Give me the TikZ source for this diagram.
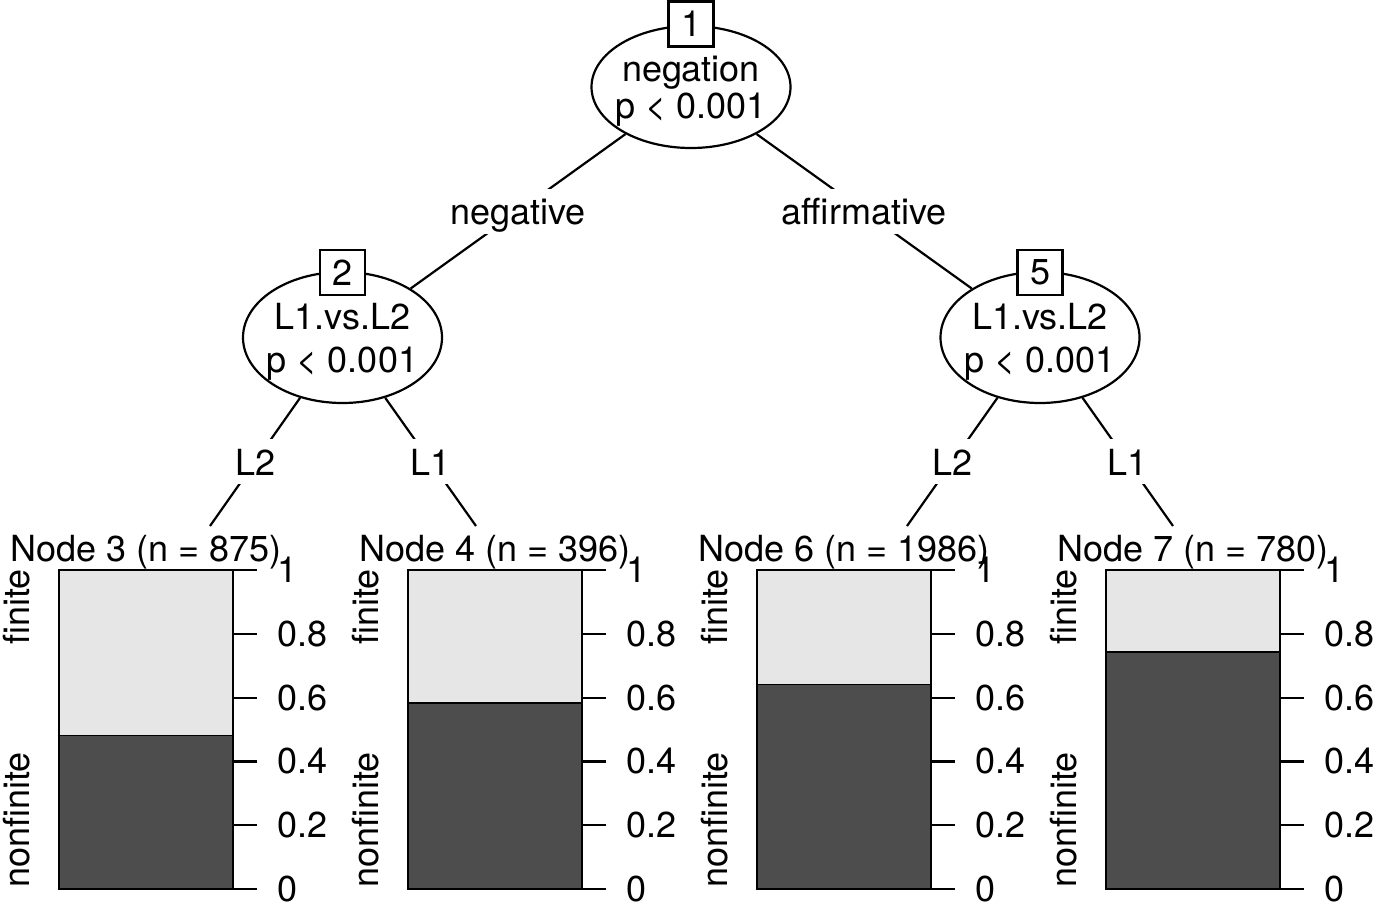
\documentclass[tikz,border=0pt]{standalone}
\usepackage{fontspec}
\setmainfont{TeX Gyre Heros}
\usetikzlibrary{shapes.geometric}
\usetikzlibrary{positioning}
\definecolor{lightbar}{HTML}{E6E6E6}
\definecolor{darkbar}{HTML}{4D4D4D}

\begin{document}
\begin{tikzpicture}[x=0.5pt, y=-0.5pt, line width=1.1pt,
    every node/.style={font=\fontsize{18}{21.5}\selectfont},
    split/.style={ellipse, draw, fill=white, align=center, inner ysep=0pt, inner xsep=-15pt,
      minimum width=99.5pt, minimum height=65.5pt, text depth=0pt},
    idbox/.style={draw, fill=white, minimum size=22.5pt, inner sep=0pt},
    edgelab/.style={fill=white, inner sep=0pt, minimum height=22.5pt,
      text height=15pt, text depth=1.8pt}]
  \useasboundingbox (0,0) rectangle (1375,906);

  \node[split, minimum height=61pt, font=\fontsize{18}{18.5}\selectfont] (n1) at (691,87) {negation\\p < 0.001};
  \node[split] (n2) at (342.5,337.5) {L1.vs.L2\\p < 0.001};
  \node[split] (n5) at (1040,337.5) {L1.vs.L2\\p < 0.001};
  \node[idbox] (b1) at (691,24) {1};
  \node[idbox] (b2) at (342.5,272.5) {2};
  \node[idbox] (b5) at (1040,272.5) {5};

  \coordinate (t3) at (210,526);
  \coordinate (t4) at (476,526);
  \coordinate (t6) at (907,526);
  \coordinate (t7) at (1173,526);

  \draw (n1) -- node[edgelab] (e2) {negative} (n2);
  \draw (n1) -- node[edgelab] (e5) {affirmative} (n5);
  \draw (n2) -- node[edgelab] (e3) {L2} (t3);
  \draw (n2) -- node[edgelab] (e4) {L1} (t4);
  \draw (n5) -- node[edgelab] (e6) {L2} (t6);
  \draw (n5) -- node[edgelab] (e7) {L1} (t7);

  \foreach \k/\l/\n/\f in {3/59/875/0.48, 4/408/396/0.583, 6/757/1986/0.64, 7/1106/780/0.743} {
    \node[anchor=base] (h\k) at (\l+87,561) {Node \k{} (n = \n)};
    \fill[darkbar] (\l,889) rectangle (\l+174,889-319*\f);
    \fill[lightbar] (\l,889-319*\f) rectangle (\l+174,570);
    \draw[line width=0.6pt] (\l,889-319*\f) -- (\l+174,889-319*\f);
    \draw (\l,570) rectangle (\l+174,889);
    \foreach \v [count=\c] in {0,0.2,0.4,0.6,0.8,1}
      \draw (\l+174,889-319*\v) -- (\l+198,889-319*\v)
        node[anchor=west, inner sep=0pt, xshift=9.5pt] (y\k-\c) {\v};
    \node[rotate=90, anchor=base] (f\k) at (\l-30,607) {finite};
    \node[rotate=90, anchor=base] (nf\k) at (\l-30,820) {nonfinite};
  }
\end{tikzpicture}
\end{document}
